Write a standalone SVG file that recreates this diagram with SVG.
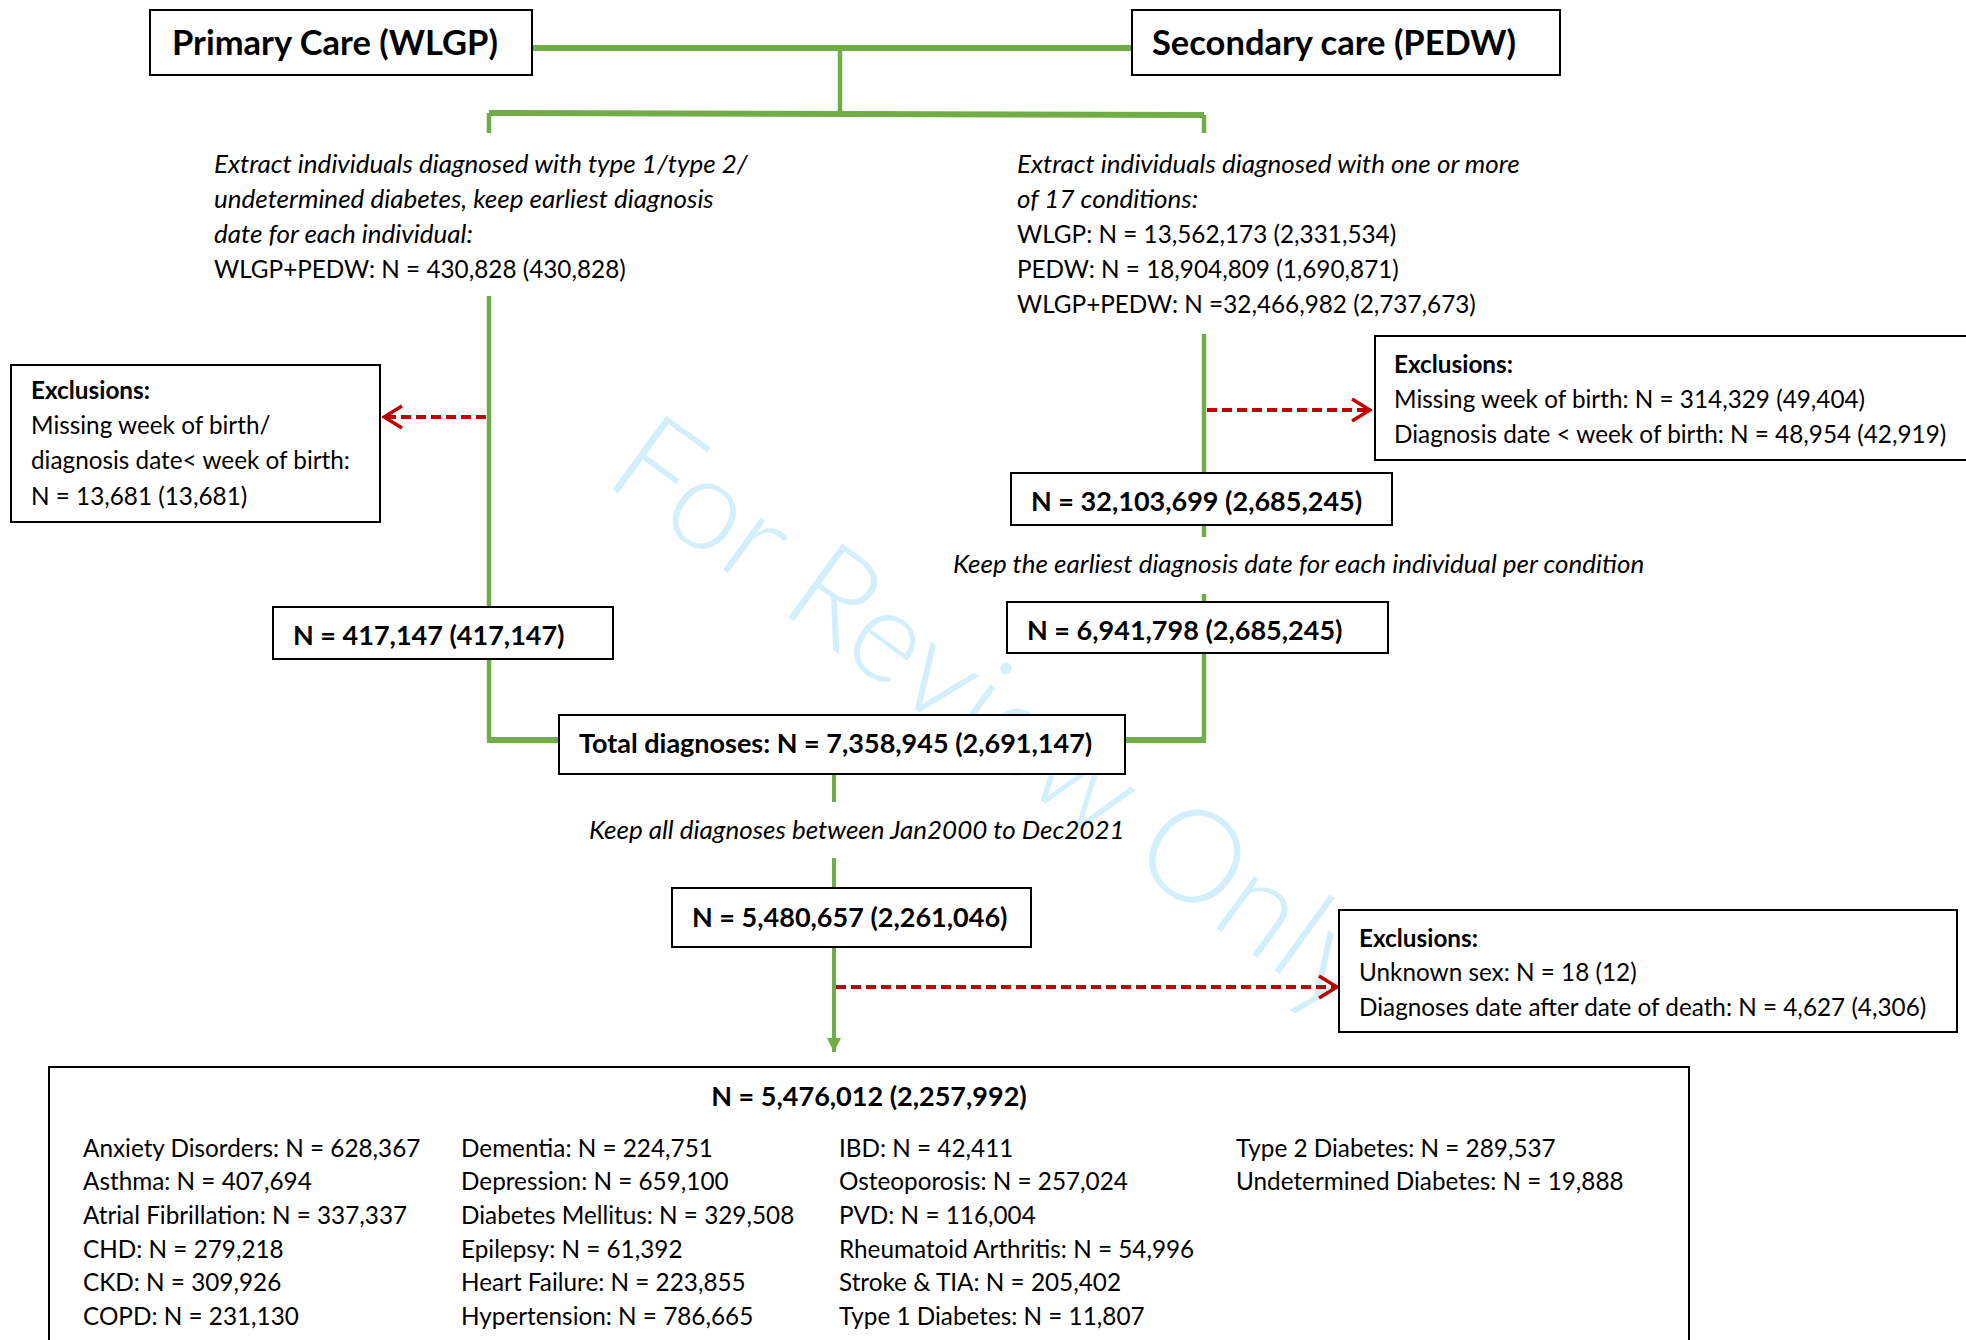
<svg xmlns="http://www.w3.org/2000/svg" width="1966" height="1340" viewBox="0 0 1966 1340">
<style>
text{font-family:Lato,"Open Sans","Liberation Sans",sans-serif;fill:#000}
.box{fill:#fff;stroke:#000;stroke-width:2}
.h{font-weight:bold;font-size:34.5px}
.b{font-weight:bold;font-size:27px}
.t{font-size:24.3px}
.i{font-size:26px;font-style:italic}
.g{fill:none;stroke:#70ad47;stroke-width:4.5}
.gt{fill:none;stroke:#70ad47;stroke-width:6}
.r{fill:none;stroke:#c00000;stroke-width:4;stroke-dasharray:10 5}
.wm{font-family:Lato,"Liberation Sans",sans-serif;font-weight:300;font-size:129px;fill:#d3effb}
</style>
<defs>
<marker id="chev" viewBox="0 0 22 26" refX="20" refY="13" markerWidth="22" markerHeight="26" markerUnits="userSpaceOnUse" orient="auto">
<path d="M2 2 L20 13 L2 24" fill="none" stroke="#c00000" stroke-width="3.5"/>
</marker>
<marker id="tri" viewBox="0 0 14 14" refX="7" refY="14" markerWidth="14" markerHeight="14" markerUnits="userSpaceOnUse" orient="0">
<path d="M0 0 L14 0 L7 14 Z" fill="#70ad47"/>
</marker>
</defs>
<rect width="1966" height="1340" fill="#fff"/>
<text class="wm" x="996" y="758" text-anchor="middle" transform="rotate(36 996 716)">For Review Only</text>
<g id="connectors">
<path class="gt" d="M532 48 H1132"/>
<path class="g" d="M840 48 V113"/>
<path class="gt" d="M489 113 L1204 115"/>
<path class="g" d="M489 113 V133 M1204 115 V133"/>
<path class="g" d="M489 296 V607"/>
<path class="g" d="M489 659 V740"/>
<path class="gt" d="M487 740 H559"/>
<path class="g" d="M1204 334 V473 M1204 525 V537 M1204 594 V602 M1204 653 V740"/>
<path class="gt" d="M1125 740 H1206"/>
<path class="g" style="stroke-width:4" d="M834 774 V802 M834 858 V888"/>
<path class="g" style="stroke-width:4" d="M834 947 V1052" marker-end="url(#tri)"/>
<path class="r" d="M486 417 H384" marker-end="url(#chev)"/>
<path class="r" d="M1207 410 H1370" marker-end="url(#chev)"/>
<path class="r" d="M836 987 H1337" marker-end="url(#chev)"/>
</g>
<g id="primary"><rect class="box" x="150" y="10" width="382" height="65"/><text class="h" x="172" y="55">Primary Care (WLGP)</text></g>
<g id="secondary"><rect class="box" x="1132" y="10" width="428" height="65"/><text class="h" x="1152" y="55">Secondary care (PEDW)</text></g>
<g id="extract-left">
<text class="i" x="214" y="173">Extract individuals diagnosed with type 1/type 2/</text>
<text class="i" x="214" y="208">undetermined diabetes, keep earliest diagnosis</text>
<text class="i" x="214" y="243">date for each individual:</text>
<text class="t" x="214" y="278">WLGP+PEDW: N = 430,828 (430,828)</text>
</g>
<g id="extract-right">
<text class="i" x="1017" y="173">Extract individuals diagnosed with one or more</text>
<text class="i" x="1017" y="208">of 17 conditions:</text>
<text class="t" x="1017" y="243">WLGP: N = 13,562,173 (2,331,534)</text>
<text class="t" x="1017" y="278">PEDW: N = 18,904,809 (1,690,871)</text>
<text class="t" x="1017" y="313">WLGP+PEDW: N =32,466,982 (2,737,673)</text>
</g>
<g id="excl-left"><rect class="box" x="11" y="365" width="369" height="157"/>
<text class="t" x="31" y="399" font-weight="bold">Exclusions:</text>
<text class="t" x="31" y="434">Missing week of birth/</text>
<text class="t" x="31" y="469">diagnosis date&lt; week of birth:</text>
<text class="t" x="31" y="505">N = 13,681 (13,681)</text>
</g>
<g id="excl-right"><rect class="box" x="1375" y="336" width="620" height="124"/>
<text class="t" x="1394" y="373" font-weight="bold">Exclusions:</text>
<text class="t" x="1394" y="408">Missing week of birth: N = 314,329 (49,404)</text>
<text class="t" x="1394" y="443">Diagnosis date &lt; week of birth: N = 48,954 (42,919)</text>
</g>
<g id="n417"><rect class="box" x="273" y="607" width="340" height="52"/><text class="b" x="293" y="645">N = 417,147 (417,147)</text></g>
<g id="n32m"><rect class="box" x="1011" y="473" width="381" height="52"/><text class="b" x="1031" y="511">N = 32,103,699 (2,685,245)</text></g>
<text class="i" x="953" y="573">Keep the earliest diagnosis date for each individual per condition</text>
<g id="n6m"><rect class="box" x="1007" y="602" width="381" height="51"/><text class="b" x="1027" y="640">N = 6,941,798 (2,685,245)</text></g>
<g id="total"><rect class="box" x="559" y="715" width="566" height="59"/><text class="b" x="579" y="753">Total diagnoses: N = 7,358,945 (2,691,147)</text></g>
<text class="i" x="589" y="839">Keep all diagnoses between Jan2000 to Dec2021</text>
<g id="n548"><rect class="box" x="672" y="888" width="359" height="59"/><text class="b" x="692" y="927">N = 5,480,657 (2,261,046)</text></g>
<g id="excl-bottom"><rect class="box" x="1339" y="910" width="618" height="122"/>
<text class="t" x="1359" y="947" font-weight="bold">Exclusions:</text>
<text class="t" x="1359" y="981">Unknown sex: N = 18 (12)</text>
<text class="t" x="1359" y="1016">Diagnoses date after date of death: N = 4,627 (4,306)</text>
</g>
<g id="final"><rect class="box" x="49" y="1067" width="1640" height="300"/>
<text class="b" x="869" y="1106" text-anchor="middle">N = 5,476,012 (2,257,992)</text>
<text class="t" x="83" y="1157">Anxiety Disorders: N = 628,367</text>
<text class="t" x="83" y="1190">Asthma: N = 407,694</text>
<text class="t" x="83" y="1224">Atrial Fibrillation:  N = 337,337</text>
<text class="t" x="83" y="1258">CHD: N = 279,218</text>
<text class="t" x="83" y="1291">CKD: N = 309,926</text>
<text class="t" x="83" y="1325">COPD: N = 231,130</text>
<text class="t" x="461" y="1157">Dementia: N = 224,751</text>
<text class="t" x="461" y="1190">Depression: N = 659,100</text>
<text class="t" x="461" y="1224">Diabetes Mellitus: N = 329,508</text>
<text class="t" x="461" y="1258">Epilepsy: N = 61,392</text>
<text class="t" x="461" y="1291">Heart Failure: N = 223,855</text>
<text class="t" x="461" y="1325">Hypertension: N = 786,665</text>
<text class="t" x="839" y="1157">IBD: N = 42,411</text>
<text class="t" x="839" y="1190">Osteoporosis: N = 257,024</text>
<text class="t" x="839" y="1224">PVD: N = 116,004</text>
<text class="t" x="839" y="1258">Rheumatoid Arthritis: N = 54,996</text>
<text class="t" x="839" y="1291">Stroke &amp; TIA: N = 205,402</text>
<text class="t" x="839" y="1325">Type 1 Diabetes: N = 11,807</text>
<text class="t" x="1236" y="1157">Type 2 Diabetes: N = 289,537</text>
<text class="t" x="1236" y="1190">Undetermined Diabetes: N = 19,888</text>
</g>
</svg>
